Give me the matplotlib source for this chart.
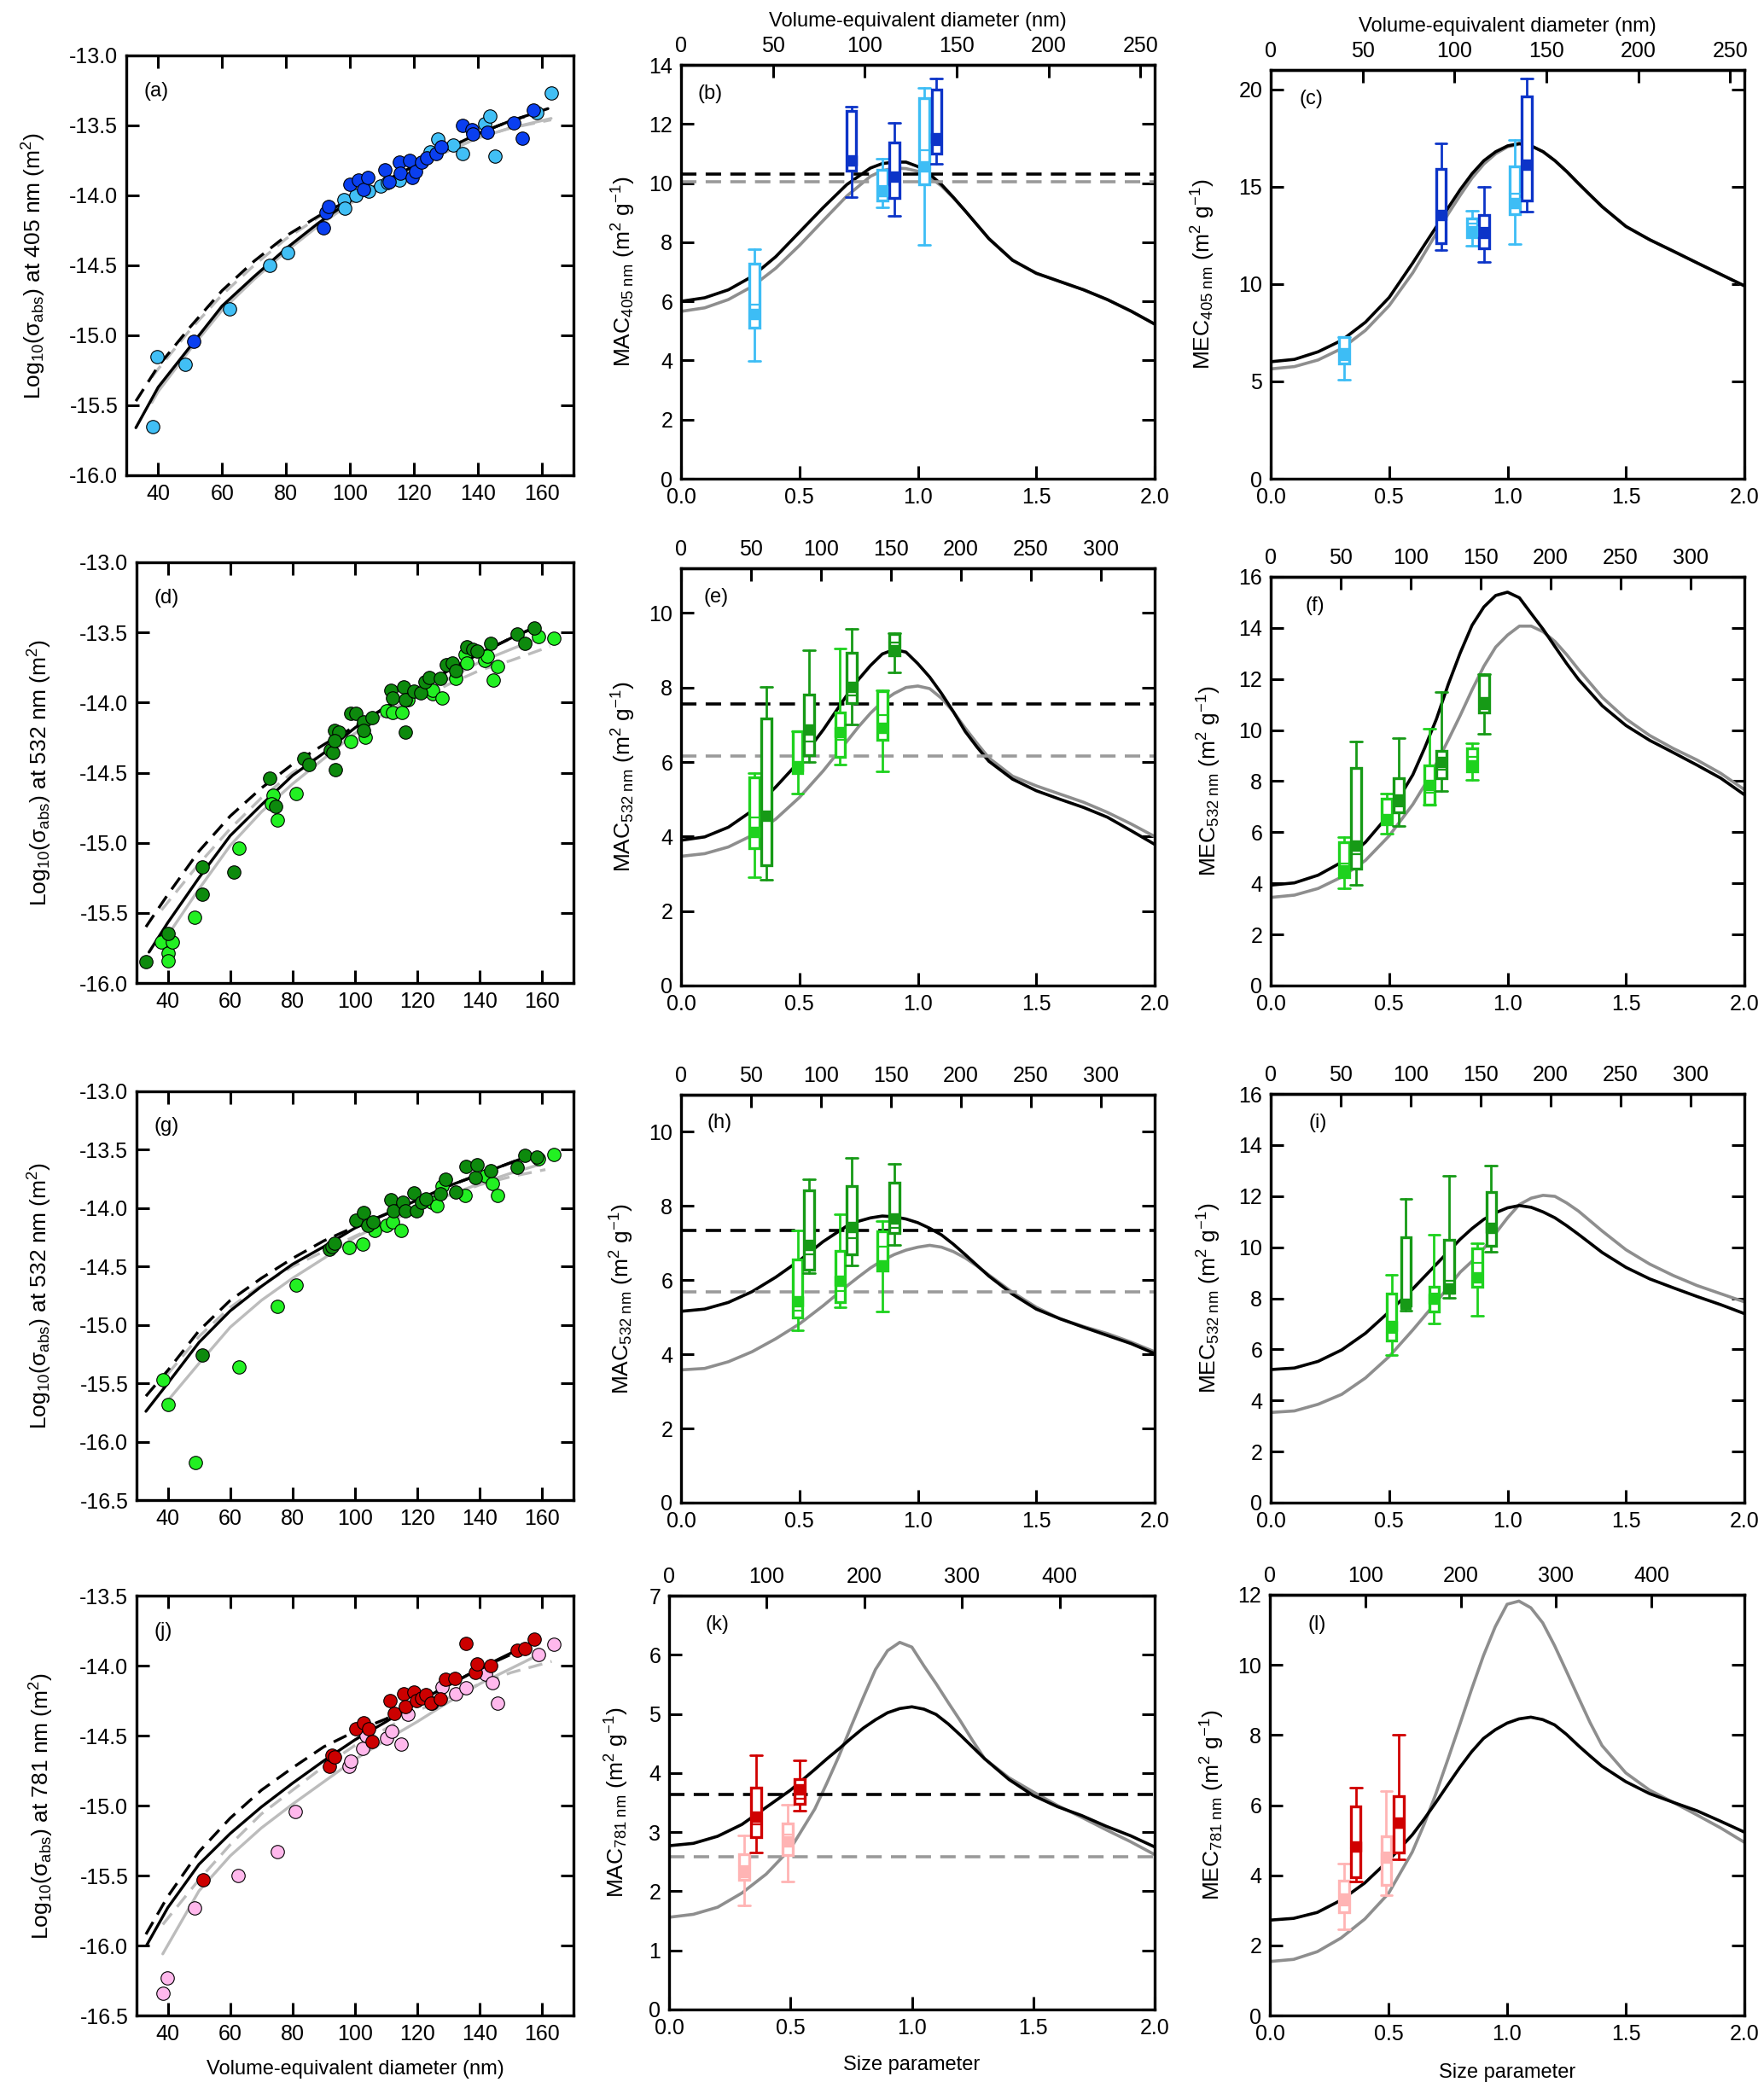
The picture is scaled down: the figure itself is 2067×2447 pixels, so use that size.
import numpy as np
import matplotlib
matplotlib.use("Agg")
import matplotlib.pyplot as plt
from matplotlib.patches import Rectangle
from matplotlib.ticker import FormatStrFormatter

plt.rcParams['font.family'] = ['Liberation Sans', 'DejaVu Sans']
plt.rcParams['mathtext.fontset'] = 'custom'
plt.rcParams['mathtext.rm'] = 'Liberation Sans'
plt.rcParams['mathtext.it'] = 'Liberation Sans:italic'
plt.rcParams['mathtext.bf'] = 'Liberation Sans:bold'
plt.rcParams['axes.unicode_minus'] = False
plt.rcParams['lines.solid_joinstyle'] = 'round'
plt.rcParams['lines.solid_capstyle'] = 'round'

# ---------------- left column: log10(sigma_abs) vs diameter ----------------
# (a) 405 nm
a_light_d = [38.2, 39.6, 48.4, 62.2, 75.0, 80.6, 98.0, 98.4, 102.0, 105.8, 109.7, 111.8, 115.4,
             125.0, 127.4, 132.2, 135.2, 142.1, 143.8, 145.4, 158.6, 163.1]
a_light_v = [-15.65, -15.15, -15.21, -14.81, -14.50, -14.41, -14.03, -14.09, -14.00, -13.97, -13.93,
             -13.91, -13.89, -13.69, -13.60, -13.64, -13.70, -13.49, -13.43, -13.72, -13.41, -13.27]
a_dark_d = [51.2, 91.7, 92.4, 93.2, 100.1, 102.8, 104.2, 105.5, 111.0, 112.2, 115.4, 115.7, 118.8,
            119.4, 120.6, 122.4, 124.1, 127.1, 128.6, 135.4, 138.2, 138.5, 143.0, 151.4, 154.1, 157.4]
a_dark_v = [-15.04, -14.23, -14.12, -14.08, -13.92, -13.89, -13.96, -13.87, -13.82, -13.90, -13.76,
            -13.84, -13.75, -13.87, -13.83, -13.76, -13.73, -13.70, -13.65, -13.50, -13.53, -13.56,
            -13.55, -13.48, -13.59, -13.39]
a_bs_d = [33, 40, 50, 60, 70, 80, 90, 100, 110, 120, 130, 140, 150, 162]
a_bs_v = [-15.66, -15.37, -15.08, -14.79, -14.58, -14.38, -14.20, -14.04, -13.91, -13.79, -13.67, -13.56, -13.47, -13.38]
a_bd_d = [33, 40, 50, 60, 70, 80, 90, 100, 110, 120, 130, 140, 150, 160]
a_bd_v = [-15.47, -15.22, -14.94, -14.68, -14.47, -14.29, -14.15, -14.03, -13.91, -13.79, -13.67, -13.56, -13.47, -13.40]
a_gs_d = [38, 40, 50, 60, 70, 80, 90, 100, 110, 120, 130, 140, 150, 163]
a_gs_v = [-15.48, -15.40, -15.10, -14.82, -14.60, -14.40, -14.22, -14.06, -13.92, -13.80, -13.69, -13.59, -13.52, -13.45]
a_gd_d = [38, 40, 50, 60, 70, 80, 90, 100, 110, 120, 130, 140, 150, 163]
a_gd_v = [-15.30, -15.24, -14.96, -14.71, -14.50, -14.31, -14.16, -14.04, -13.92, -13.80, -13.69, -13.59, -13.52, -13.46]

# (d) 532 nm
d_light_d = [37.9, 40.0, 40.0, 41.6, 48.6, 62.8, 73.8, 73.2, 75.1, 81.0, 98.7, 103.4, 110.2, 112.0, 115.1,
             116.9, 124.9, 124.9, 128.0, 132.3, 135.4, 135.8, 141.5, 142.5, 145.6, 144.2, 158.8, 163.7]
d_light_v = [-15.71, -15.79, -15.84, -15.71, -15.53, -15.04, -14.66, -14.72, -14.84, -14.65, -14.28, -14.25,
             -14.06, -14.07, -14.07, -13.98, -13.94, -13.91, -13.97, -13.83, -13.66, -13.72, -13.70, -13.67,
             -13.74, -13.84, -13.53, -13.54]
d_dark_d = [33.0, 40.0, 51.1, 51.1, 61.2, 72.6, 74.6, 83.7, 85.2, 92.1, 93.0, 93.5, 94.8, 93.5, 93.8, 98.5,
            100.4, 102.8, 102.8, 105.4, 111.4, 112.0, 115.7, 116.0, 116.0, 118.8, 121.0, 122.5, 123.7, 127.4,
            129.2, 131.1, 132.3, 135.8, 137.8, 139.0, 143.4, 152.0, 154.5, 157.5]
d_dark_v = [-15.85, -15.65, -15.17, -15.37, -15.21, -14.54, -14.74, -14.40, -14.44, -14.34, -14.36, -14.20,
            -14.21, -14.27, -14.48, -14.08, -14.08, -14.14, -14.20, -14.11, -13.91, -13.97, -13.89, -13.98,
            -14.21, -13.92, -13.93, -13.85, -13.82, -13.83, -13.73, -13.72, -13.77, -13.60, -13.62, -13.63,
            -13.58, -13.51, -13.58, -13.47]
d_bs_d = [34, 40, 50, 60, 70, 80, 90, 100, 110, 120, 130, 140, 150, 157]
d_bs_v = [-15.78, -15.57, -15.25, -14.95, -14.73, -14.52, -14.36, -14.18, -14.03, -13.91, -13.77, -13.65, -13.54, -13.47]
d_bd_d = [33, 40, 50, 60, 70, 80, 90, 100, 110, 120, 130, 140, 150, 157]
d_bd_v = [-15.60, -15.37, -15.06, -14.81, -14.61, -14.44, -14.30, -14.17, -14.03, -13.91, -13.77, -13.65, -13.54, -13.47]
d_gs_d = [40.6, 50, 60, 70, 80, 90, 100, 110, 120, 130, 140, 150, 160]
d_gs_v = [-15.64, -15.33, -15.02, -14.78, -14.58, -14.40, -14.22, -14.07, -13.95, -13.83, -13.71, -13.62, -13.53]
d_gd_d = [38, 50, 60, 70, 80, 90, 100, 110, 120, 130, 140, 150, 162.5]
d_gd_v = [-15.48, -15.15, -14.90, -14.68, -14.50, -14.36, -14.22, -14.09, -13.98, -13.87, -13.77, -13.70, -13.60]

# (g) 532 nm, second set
g_light_d = [38.4, 40.0, 48.9, 62.8, 75.1, 81.0, 98.1, 102.4, 106.2, 110.2, 112.0, 114.7, 124.6, 126.2,
             127.8, 135.4, 141.8, 144.0, 145.8, 158.8, 163.7]
g_light_v = [-15.47, -15.68, -16.18, -15.36, -14.84, -14.66, -14.34, -14.31, -14.19, -14.15, -14.12, -14.19,
             -13.95, -13.98, -13.81, -13.89, -13.72, -13.79, -13.89, -13.58, -13.54]
g_dark_d = [51.1, 91.7, 92.6, 93.5, 100.3, 102.8, 104.0, 105.8, 111.4, 112.2, 115.4, 116.0, 118.8, 119.6,
            121.2, 122.8, 127.4, 129.0, 132.3, 135.6, 138.6, 139.1, 143.4, 152.0, 154.5, 158.2]
g_dark_v = [-15.26, -14.35, -14.33, -14.30, -14.10, -14.04, -14.15, -14.12, -13.93, -14.02, -13.95, -14.02,
            -13.87, -14.02, -13.95, -13.92, -13.88, -13.75, -13.86, -13.64, -13.74, -13.63, -13.68, -13.65,
            -13.55, -13.56]
g_bs_d = [33, 40, 50, 60, 70, 80, 90, 100, 110, 120, 130, 140, 150, 155]
g_bs_v = [-15.74, -15.50, -15.15, -14.88, -14.67, -14.48, -14.33, -14.17, -14.05, -13.93, -13.81, -13.71, -13.61, -13.56]
g_bd_d = [33, 40, 50, 60, 70, 80, 90, 100, 110, 120, 130, 140, 150, 155]
g_bd_v = [-15.61, -15.39, -15.05, -14.79, -14.60, -14.43, -14.28, -14.16, -14.05, -13.93, -13.81, -13.71, -13.61, -13.56]
g_gs_d = [40.6, 50, 60, 70, 80, 90, 100, 110, 120, 130, 140, 150, 160]
g_gs_v = [-15.63, -15.33, -15.02, -14.79, -14.60, -14.43, -14.25, -14.12, -14.00, -13.89, -13.79, -13.70, -13.62]
g_gd_d = [40, 50, 60, 70, 80, 90, 100, 110, 120, 130, 140, 150, 161]
g_gd_v = [-15.42, -15.10, -14.85, -14.66, -14.50, -14.37, -14.24, -14.12, -14.01, -13.90, -13.80, -13.73, -13.67]

# (j) 781 nm
j_light_d = [38.4, 39.8, 48.6, 62.5, 75.1, 80.9, 98.2, 98.5, 102.4, 103.6, 110.2, 111.8, 114.7, 116.9,
             124.6, 127.8, 132.3, 135.6, 141.8, 144.0, 145.6, 158.8, 163.7]
j_light_v = [-16.34, -16.23, -15.73, -15.50, -15.33, -15.04, -14.72, -14.68, -14.59, -14.50, -14.52, -14.47,
             -14.56, -14.35, -14.27, -14.15, -14.20, -14.16, -14.06, -14.12, -14.27, -13.92, -13.85]
j_dark_d = [51.3, 91.7, 92.6, 93.5, 100.3, 102.8, 104.4, 105.6, 111.1, 112.6, 115.7, 116.0, 118.8, 119.6,
            121.2, 122.8, 124.3, 127.4, 128.9, 132.0, 135.6, 138.6, 139.1, 143.4, 152.0, 154.5, 157.5]
j_dark_v = [-15.53, -14.72, -14.64, -14.65, -14.45, -14.41, -14.45, -14.54, -14.25, -14.34, -14.20, -14.29,
            -14.19, -14.25, -14.23, -14.21, -14.27, -14.24, -14.10, -14.09, -13.84, -14.05, -13.99, -14.00,
            -13.89, -13.88, -13.81]
j_bs_d = [33.2, 40, 50, 60, 70, 80, 90, 100, 110, 120, 130, 140, 150, 153]
j_bs_v = [-16.00, -15.73, -15.42, -15.20, -15.01, -14.84, -14.68, -14.53, -14.40, -14.26, -14.14, -14.02, -13.91, -13.88]
j_bd_d = [33, 40, 50, 60, 70, 80, 90, 100, 110, 120, 130, 140, 150, 153]
j_bd_v = [-15.92, -15.65, -15.33, -15.09, -14.89, -14.73, -14.58, -14.47, -14.38, -14.26, -14.14, -14.02, -13.92, -13.89]
j_gs_d = [38.4, 50, 60, 70, 80, 90, 100, 110, 120, 130, 140, 150, 160]
j_gs_v = [-16.06, -15.61, -15.36, -15.16, -14.99, -14.83, -14.67, -14.53, -14.40, -14.26, -14.13, -14.02, -13.91]
j_gd_d = [38.4, 50, 60, 70, 80, 90, 100, 110, 120, 130, 140, 150, 163]
j_gd_v = [-15.85, -15.53, -15.28, -15.06, -14.89, -14.72, -14.57, -14.45, -14.32, -14.23, -14.13, -14.05, -13.97]

# ---------------- middle / right columns: MAC and MEC vs size parameter ----------------
sp_b = [0, 0.1, 0.2, 0.3, 0.4, 0.5, 0.6, 0.7, 0.8, 0.85, 0.9, 0.95, 1.0, 1.05, 1.1, 1.15, 1.2, 1.25, 1.3,
        1.4, 1.5, 1.6, 1.7, 1.8, 1.9, 2.0]
b_black = [6.00, 6.12, 6.39, 6.84, 7.51, 8.34, 9.17, 9.95, 10.51, 10.66, 10.71, 10.71, 10.56, 10.30, 9.95, 9.52,
           9.06, 8.59, 8.12, 7.39, 6.95, 6.67, 6.39, 6.06, 5.67, 5.23]
b_gray = [5.66, 5.78, 6.06, 6.50, 7.12, 7.89, 8.73, 9.56, 10.23, 10.42, 10.51, 10.49, 10.40, 10.20, 9.90, 9.50,
          9.06, 8.59, 8.12, 7.39, 6.95, 6.67, 6.39, 6.06, 5.67, 5.23]
b_dash = [10.31, 10.04]
# box rows: x, low whisker, q1, median, q3, high whisker, mean, dark(1)/light(0)
b_boxes = [[0.309, 3.97, 5.12, 5.89, 7.28, 7.76, 5.56, 0],
           [0.719, 9.54, 10.43, 10.60, 12.45, 12.60, 10.76, 1],
           [0.850, 9.17, 9.40, 9.90, 10.45, 10.83, 9.73, 0],
           [0.900, 8.90, 9.51, 10.30, 11.38, 12.04, 10.23, 1],
           [1.028, 7.90, 9.95, 11.12, 12.88, 13.21, 10.56, 0],
           [1.079, 10.65, 11.01, 11.30, 13.15, 13.55, 11.53, 1]]

sp_c = [0, 0.1, 0.2, 0.3, 0.4, 0.5, 0.6, 0.65, 0.7, 0.75, 0.8, 0.85, 0.9, 0.95, 1.0, 1.05, 1.1, 1.15, 1.2,
        1.25, 1.3, 1.35, 1.4, 1.5, 1.6, 1.7, 1.8, 1.9, 2.0]
c_black = [6.01, 6.13, 6.52, 7.11, 8.04, 9.31, 11.09, 12.03, 12.96, 13.93, 14.85, 15.67, 16.34, 16.80, 17.10,
           17.22, 17.10, 16.80, 16.34, 15.78, 15.16, 14.56, 13.97, 12.96, 12.28, 11.69, 11.09, 10.50, 9.91]
c_gray = [5.64, 5.76, 6.10, 6.69, 7.62, 8.89, 10.58, 11.60, 12.62, 13.62, 14.56, 15.45, 16.17, 16.70, 17.05,
          17.19, 17.10, 16.80, 16.34, 15.78, 15.16, 14.56, 13.97, 12.96, 12.28, 11.69, 11.09, 10.50, 9.91]
c_boxes = [[0.310, 5.08, 5.93, 6.10, 7.28, 7.28, 6.43, 0],
           [0.719, 11.77, 12.11, 13.70, 15.92, 17.24, 13.55, 1],
           [0.850, 11.97, 12.41, 13.12, 13.38, 13.77, 12.70, 0],
           [0.900, 11.13, 11.85, 12.90, 13.55, 14.99, 12.62, 1],
           [1.031, 12.06, 13.60, 14.65, 16.04, 17.41, 14.14, 0],
           [1.081, 13.72, 14.28, 16.10, 19.63, 20.54, 16.12, 1]]

sp_e = [0, 0.1, 0.2, 0.3, 0.4, 0.5, 0.6, 0.7, 0.75, 0.8, 0.85, 0.9, 0.95, 1.0, 1.05, 1.1, 1.15, 1.2, 1.25,
        1.3, 1.4, 1.5, 1.6, 1.7, 1.8, 1.9, 2.0]
e_black = [3.90, 3.99, 4.25, 4.69, 5.33, 6.02, 6.86, 7.79, 8.22, 8.59, 8.90, 9.02, 8.95, 8.64, 8.28, 7.84, 7.35,
           6.82, 6.40, 6.02, 5.54, 5.23, 5.00, 4.78, 4.52, 4.16, 3.79]
e_gray = [3.47, 3.54, 3.72, 4.03, 4.47, 5.05, 5.76, 6.55, 6.95, 7.31, 7.62, 7.84, 8.00, 8.04, 7.97, 7.71, 7.35,
          6.91, 6.50, 6.11, 5.62, 5.36, 5.14, 4.92, 4.65, 4.34, 4.00]
e_dash = [7.56, 6.16]
e_boxes = [[0.309, 2.92, 3.68, 4.52, 5.58, 5.70, 4.12, 0],
           [0.361, 2.83, 3.23, 4.50, 7.17, 8.02, 4.56, 1],
           [0.492, 5.16, 5.70, 5.95, 6.82, 6.82, 5.89, 0],
           [0.541, 6.01, 6.18, 6.55, 7.82, 8.99, 6.86, 1],
           [0.672, 5.93, 6.13, 6.60, 7.33, 9.05, 6.80, 0],
           [0.721, 7.00, 7.57, 7.79, 8.93, 9.57, 8.02, 1],
           [0.850, 5.76, 6.60, 7.26, 7.90, 7.93, 6.91, 0],
           [0.900, 8.41, 8.86, 9.21, 9.43, 9.46, 8.99, 1]]

sp_f = [0, 0.1, 0.2, 0.3, 0.4, 0.5, 0.6, 0.65, 0.7, 0.75, 0.8, 0.85, 0.9, 0.95, 1.0, 1.05, 1.1, 1.15, 1.2,
        1.25, 1.3, 1.4, 1.5, 1.6, 1.7, 1.8, 1.9, 2.0]
f_black = [3.93, 4.02, 4.32, 4.83, 5.61, 6.70, 8.25, 9.30, 10.44, 11.80, 13.02, 14.10, 14.82, 15.27, 15.40,
           15.18, 14.56, 13.95, 13.27, 12.60, 11.98, 10.95, 10.18, 9.60, 9.12, 8.63, 8.12, 7.47]
f_gray = [3.45, 3.54, 3.80, 4.25, 4.90, 5.86, 7.09, 7.85, 8.70, 9.62, 10.57, 11.57, 12.50, 13.25, 13.72, 14.07,
          14.07, 13.85, 13.47, 12.95, 12.37, 11.28, 10.44, 9.79, 9.28, 8.83, 8.31, 7.67]
f_boxes = [[0.310, 3.80, 4.25, 4.77, 5.61, 5.80, 4.51, 0],
           [0.360, 3.93, 4.57, 5.15, 8.51, 9.54, 5.48, 1],
           [0.489, 5.95, 6.31, 6.60, 7.32, 7.50, 6.51, 0],
           [0.540, 6.25, 6.77, 7.02, 8.12, 9.69, 7.28, 1],
           [0.671, 7.09, 7.09, 7.54, 8.61, 10.05, 7.86, 0],
           [0.721, 7.60, 8.12, 8.44, 9.18, 11.49, 8.76, 1],
           [0.850, 8.05, 8.38, 8.96, 9.28, 9.50, 8.63, 0],
           [0.900, 9.86, 10.70, 10.82, 12.15, 12.18, 11.08, 1]]

sp_h = [0, 0.1, 0.2, 0.3, 0.4, 0.5, 0.6, 0.7, 0.75, 0.8, 0.85, 0.9, 0.95, 1.0, 1.05, 1.1, 1.15, 1.2, 1.25,
        1.3, 1.4, 1.5, 1.6, 1.7, 1.8, 1.9, 2.0]
h_black = [5.16, 5.22, 5.40, 5.69, 6.08, 6.53, 7.04, 7.46, 7.59, 7.68, 7.73, 7.71, 7.65, 7.55, 7.40, 7.22, 6.97,
           6.69, 6.40, 6.11, 5.62, 5.22, 4.96, 4.73, 4.51, 4.29, 4.02]
h_gray = [3.58, 3.62, 3.80, 4.07, 4.42, 4.82, 5.31, 5.84, 6.09, 6.33, 6.53, 6.69, 6.81, 6.89, 6.94, 6.89, 6.77,
          6.60, 6.38, 6.14, 5.67, 5.27, 4.96, 4.75, 4.56, 4.33, 4.07]
h_dash = [7.34, 5.69]
h_boxes = [[0.492, 4.64, 5.00, 5.18, 6.57, 7.34, 5.44, 0],
           [0.541, 6.18, 6.29, 6.69, 8.42, 8.73, 6.94, 1],
           [0.672, 5.28, 5.40, 5.71, 6.79, 7.78, 5.98, 0],
           [0.721, 6.39, 6.69, 7.13, 8.53, 9.29, 7.44, 1],
           [0.850, 5.16, 6.26, 6.91, 7.31, 7.59, 6.40, 0],
           [0.900, 6.95, 7.28, 7.40, 8.62, 9.13, 7.66, 1]]

sp_i = [0, 0.1, 0.2, 0.3, 0.4, 0.5, 0.6, 0.7, 0.8, 0.85, 0.9, 0.95, 1.0, 1.05, 1.1, 1.15, 1.2, 1.25, 1.3,
        1.4, 1.5, 1.6, 1.7, 1.8, 1.9, 2.0]
i_black = [5.21, 5.27, 5.53, 5.98, 6.63, 7.47, 8.37, 9.34, 10.31, 10.73, 11.09, 11.35, 11.54, 11.63, 11.56,
           11.38, 11.15, 10.84, 10.50, 9.79, 9.21, 8.76, 8.41, 8.07, 7.75, 7.40]
i_gray = [3.53, 3.59, 3.85, 4.24, 4.88, 5.72, 6.76, 7.86, 9.02, 9.45, 9.95, 10.55, 11.15, 11.67, 11.92, 12.03,
          11.99, 11.73, 11.41, 10.63, 9.90, 9.34, 8.89, 8.50, 8.18, 7.86]
i_boxes = [[0.510, 5.79, 6.34, 6.65, 8.18, 8.91, 6.91, 0],
           [0.571, 7.51, 7.73, 7.92, 10.40, 11.90, 7.79, 1],
           [0.690, 7.02, 7.47, 8.20, 8.44, 10.48, 7.98, 0],
           [0.753, 8.01, 8.22, 8.70, 10.28, 12.80, 8.40, 1],
           [0.873, 7.30, 8.44, 9.37, 9.96, 10.14, 8.82, 0],
           [0.931, 9.83, 10.05, 10.76, 12.16, 13.18, 10.76, 1]]

sp_k = [0, 0.1, 0.2, 0.3, 0.4, 0.5, 0.6, 0.65, 0.7, 0.75, 0.8, 0.85, 0.9, 0.95, 1.0, 1.05, 1.1, 1.15, 1.2,
        1.25, 1.3, 1.4, 1.5, 1.6, 1.7, 1.8, 1.9, 2.0]
k_black = [2.77, 2.81, 2.93, 3.13, 3.42, 3.71, 4.06, 4.24, 4.41, 4.59, 4.76, 4.90, 5.02, 5.09, 5.12, 5.08, 4.99,
           4.83, 4.64, 4.44, 4.24, 3.89, 3.62, 3.43, 3.28, 3.10, 2.94, 2.75]
k_gray = [1.56, 1.61, 1.73, 1.97, 2.29, 2.72, 3.39, 3.83, 4.29, 4.79, 5.28, 5.75, 6.07, 6.21, 6.13, 5.81, 5.51,
          5.19, 4.88, 4.55, 4.24, 3.92, 3.68, 3.45, 3.25, 3.04, 2.84, 2.62]
k_dash = [3.64, 2.59]
k_boxes = [[0.308, 1.76, 2.20, 2.43, 2.62, 2.94, 2.32, 0],
           [0.358, 2.65, 2.91, 3.13, 3.75, 4.30, 3.26, 1],
           [0.489, 2.17, 2.61, 2.96, 3.15, 3.46, 2.84, 0],
           [0.538, 3.36, 3.48, 3.57, 3.89, 4.22, 3.72, 1]]

sp_l = [0, 0.1, 0.2, 0.3, 0.4, 0.5, 0.6, 0.65, 0.7, 0.75, 0.8, 0.85, 0.9, 0.95, 1.0, 1.05, 1.1, 1.15, 1.2,
        1.25, 1.3, 1.35, 1.4, 1.5, 1.6, 1.7, 1.8, 1.9, 2.0]
l_black = [2.72, 2.77, 2.94, 3.29, 3.78, 4.42, 5.15, 5.60, 6.08, 6.58, 7.07, 7.52, 7.90, 8.15, 8.34, 8.46, 8.51,
           8.44, 8.29, 8.02, 7.70, 7.40, 7.11, 6.67, 6.33, 6.08, 5.84, 5.54, 5.23]
l_gray = [1.54, 1.60, 1.82, 2.21, 2.75, 3.48, 4.66, 5.45, 6.33, 7.30, 8.29, 9.30, 10.26, 11.09, 11.73, 11.82,
          11.63, 11.20, 10.55, 9.82, 9.08, 8.35, 7.70, 6.92, 6.43, 6.08, 5.72, 5.35, 4.94]
l_boxes = [[0.312, 2.47, 2.94, 3.14, 3.85, 4.34, 3.34, 0],
           [0.362, 3.83, 3.95, 4.76, 5.96, 6.50, 4.81, 1],
           [0.491, 3.42, 3.73, 4.66, 5.10, 6.41, 4.51, 0],
           [0.543, 4.45, 4.66, 5.35, 6.25, 8.00, 5.50, 1]]

blue_pts = ['#41bff5', '#0a3ff0']
green_pts = ['#22f022', '#0d8a0d']
red_pts = ['#ffb8ec', '#cc0000']
blue_box = ['#3dbdf5', '#0c34c8']
green_box = ['#1ed21e', '#169a16']
red_box = ['#ffb4b4', '#d00000']

W, H = 2067, 2447
fig = plt.figure(figsize=(W / 100, H / 100), dpi=100)


def add_ax(l, t, r, b):
    return fig.add_axes([l / W, 1 - b / H, (r - l) / W, (b - t) / H])


def frame(ax, top=True):
    ax.tick_params(direction='in', length=11, width=2.2, labelsize=18, top=top, right=True, pad=7)
    for s in ax.spines.values():
        s.set_linewidth(2.4)


def left_panel(ax, light_d, light_v, dark_d, dark_v, lines, cols, ylim, yticks, wl, tag, lx):
    gs, gd, bs, bd = lines
    ax.plot(gs[0], gs[1], color='#bcbcbc', lw=2.4, zorder=2)
    ax.plot(gd[0], gd[1], color='#bcbcbc', lw=2.4, dashes=(5, 3), zorder=2)
    ax.plot(bs[0], bs[1], color='black', lw=2.4, zorder=2)
    ax.plot(bd[0], bd[1], color='black', lw=2.4, dashes=(5, 3), zorder=2)
    ax.scatter(light_d, light_v, s=125, c=cols[0], edgecolors='black', linewidths=0.8, zorder=3)
    ax.scatter(dark_d, dark_v, s=125, c=cols[1], edgecolors='black', linewidths=0.8, zorder=3)
    ax.set_xlim(30, 170)
    ax.set_ylim(*ylim)
    ax.set_xticks([40, 60, 80, 100, 120, 140, 160])
    ax.set_yticks(yticks)
    ax.yaxis.set_major_formatter(FormatStrFormatter('%.1f'))
    frame(ax, top=True)
    ax.set_ylabel('Log$_{10}$(σ$_{\\rm abs}$) at %d nm (m$^2$)' % wl, fontsize=19)
    ax.yaxis.set_label_coords(lx, 0.5)
    ax.text(0.04, 0.915, tag, transform=ax.transAxes, fontsize=17, va='center')


def right_panel(ax, black, gray, boxes, cols, dash, ylim, yticks, wl, dticks, kind, tag, tx, lx):
    ax.plot(gray[0], gray[1], color='#8e8e8e', lw=2.6, zorder=2)
    ax.plot(black[0], black[1], color='black', lw=2.6, zorder=2)
    if dash is not None:
        ax.axhline(dash[0], color='black', lw=2.6, dashes=(5, 3), zorder=2)
        ax.axhline(dash[1], color='#9a9a9a', lw=2.6, dashes=(5, 3), zorder=2)
    bw, cw = 0.042, 0.05
    for x, lo, q1, med, q3, hi, mean, dk in boxes:
        c = cols[int(dk)]
        ax.plot([x, x], [lo, q1], color=c, lw=2.0, zorder=4)
        ax.plot([x, x], [q3, hi], color=c, lw=2.0, zorder=4)
        ax.plot([x - cw / 2, x + cw / 2], [lo, lo], color=c, lw=2.0, zorder=4)
        ax.plot([x - cw / 2, x + cw / 2], [hi, hi], color=c, lw=2.0, zorder=4)
        ax.add_patch(Rectangle((x - bw / 2, q1), bw, q3 - q1, facecolor='white', edgecolor=c,
                               lw=2.4, zorder=4))
        ax.plot([x - bw / 2, x + bw / 2], [med, med], color=c, lw=1.6, zorder=5)
        ax.plot([x], [mean], marker='s', ms=8, color=c, zorder=6)
    ax.set_xlim(0, 2)
    ax.set_ylim(*ylim)
    ax.set_xticks([0, 0.5, 1.0, 1.5, 2.0])
    ax.set_yticks(yticks)
    ax.xaxis.set_major_formatter(FormatStrFormatter('%.1f'))
    frame(ax, top=False)
    sec = ax.secondary_xaxis('top', functions=(lambda x: x * wl / np.pi, lambda d: d * np.pi / wl))
    sec.set_xticks(dticks)
    sec.tick_params(direction='in', length=11, width=2.2, labelsize=18, pad=7)
    sec.spines['top'].set_linewidth(2.4)
    ax.set_ylabel('%s$_{%d\\ \\rm nm}$ (m$^{2}$ g$^{-1}$)' % (kind, wl), fontsize=19)
    ax.yaxis.set_label_coords(lx, 0.5)
    ax.text(tx, 0.93, tag, transform=ax.transAxes, fontsize=17, va='center')
    return sec


# row 1: 405 nm
ax = add_ax(148, 65, 672, 557)
left_panel(ax, a_light_d, a_light_v, a_dark_d, a_dark_v,
           [(a_gs_d, a_gs_v), (a_gd_d, a_gd_v), (a_bs_d, a_bs_v), (a_bd_d, a_bd_v)],
           blue_pts, (-16, -13), [-16, -15.5, -15, -14.5, -14, -13.5, -13], 405, '(a)', -0.176)

ax = add_ax(798, 76, 1353, 561)
sec = right_panel(ax, (sp_b, b_black), (sp_b, b_gray), b_boxes, blue_box, b_dash, (0, 14),
                  range(0, 15, 2), 405, [0, 50, 100, 150, 200, 250], 'MAC', '(b)', 0.035, -0.092)
sec.set_xlabel('Volume-equivalent diameter (nm)', fontsize=17, labelpad=8)

ax = add_ax(1489, 82, 2044, 561)
sec = right_panel(ax, (sp_c, c_black), (sp_c, c_gray), c_boxes, blue_box, None, (0, 21),
                  [0, 5, 10, 15, 20], 405, [0, 50, 100, 150, 200, 250], 'MEC', '(c)', 0.06, -0.113)
sec.set_xlabel('Volume-equivalent diameter (nm)', fontsize=17, labelpad=8)

# row 2: 532 nm
ax = add_ax(160, 659, 672, 1152)
left_panel(ax, d_light_d, d_light_v, d_dark_d, d_dark_v,
           [(d_gs_d, d_gs_v), (d_gd_d, d_gd_v), (d_bs_d, d_bs_v), (d_bd_d, d_bd_v)],
           green_pts, (-16, -13), [-16, -15.5, -15, -14.5, -14, -13.5, -13], 532, '(d)', -0.19)

ax = add_ax(798, 666, 1353, 1155)
right_panel(ax, (sp_e, e_black), (sp_e, e_gray), e_boxes, green_box, e_dash, (0, 11.2),
            range(0, 11, 2), 532, [0, 50, 100, 150, 200, 250, 300], 'MAC', '(e)', 0.047, -0.092)

ax = add_ax(1489, 676, 2044, 1155)
right_panel(ax, (sp_f, f_black), (sp_f, f_gray), f_boxes, green_box, None, (0, 16),
            range(0, 17, 2), 532, [0, 50, 100, 150, 200, 250, 300], 'MEC', '(f)', 0.073, -0.101)

# row 3: 532 nm
ax = add_ax(160, 1279, 672, 1758)
left_panel(ax, g_light_d, g_light_v, g_dark_d, g_dark_v,
           [(g_gs_d, g_gs_v), (g_gd_d, g_gd_v), (g_bs_d, g_bs_v), (g_bd_d, g_bd_v)],
           green_pts, (-16.5, -13), [-16.5, -16, -15.5, -15, -14.5, -14, -13.5, -13], 532, '(g)', -0.19)

ax = add_ax(798, 1283, 1353, 1761)
right_panel(ax, (sp_h, h_black), (sp_h, h_gray), h_boxes, green_box, h_dash, (0, 11),
            range(0, 11, 2), 532, [0, 50, 100, 150, 200, 250, 300], 'MAC', '(h)', 0.055, -0.095)

ax = add_ax(1489, 1282, 2044, 1761)
right_panel(ax, (sp_i, i_black), (sp_i, i_gray), i_boxes, green_box, None, (0, 16),
            range(0, 17, 2), 532, [0, 50, 100, 150, 200, 250, 300], 'MEC', '(i)', 0.081, -0.101)

# row 4: 781 nm
ax = add_ax(160, 1870, 672, 2362)
left_panel(ax, j_light_d, j_light_v, j_dark_d, j_dark_v,
           [(j_gs_d, j_gs_v), (j_gd_d, j_gd_v), (j_bs_d, j_bs_v), (j_bd_d, j_bd_v)],
           red_pts, (-16.5, -13.5), [-16.5, -16, -15.5, -15, -14.5, -14, -13.5], 781, '(j)', -0.186)
ax.set_xlabel('Volume-equivalent diameter (nm)', fontsize=17)
ax.xaxis.set_label_coords(0.5, -0.106)

ax = add_ax(784, 1870, 1353, 2355)
right_panel(ax, (sp_k, k_black), (sp_k, k_gray), k_boxes, red_box, k_dash, (0, 7),
            range(0, 8), 781, [0, 100, 200, 300, 400], 'MAC', '(k)', 0.075, -0.079)
ax.set_xlabel('Size parameter', fontsize=17)
ax.xaxis.set_label_coords(0.5, -0.111)

ax = add_ax(1488, 1869, 2044, 2362)
right_panel(ax, (sp_l, l_black), (sp_l, l_gray), l_boxes, red_box, None, (0, 12),
            range(0, 13, 2), 781, [0, 100, 200, 300, 400], 'MEC', '(l)', 0.08, -0.092)
ax.set_xlabel('Size parameter', fontsize=17)
ax.xaxis.set_label_coords(0.5, -0.114)

fig.savefig('out.png', dpi=100, facecolor='white')
